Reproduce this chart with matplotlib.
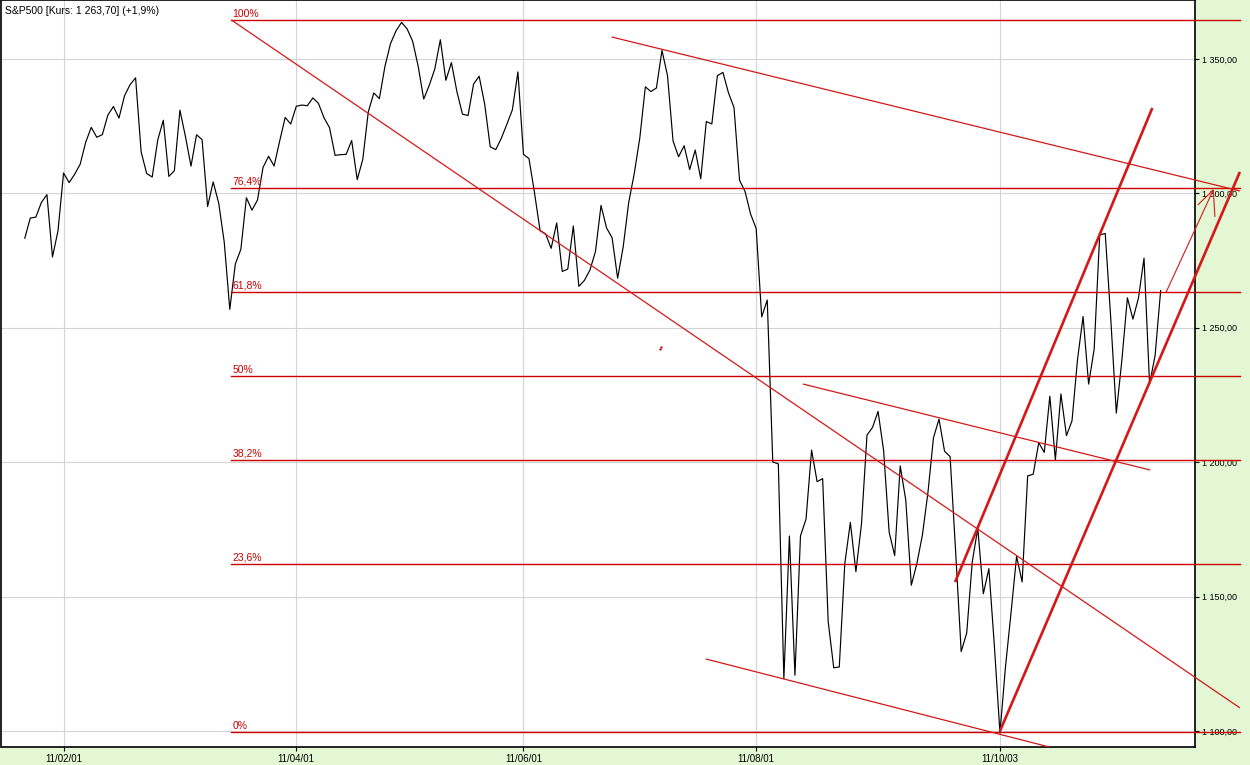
import matplotlib
matplotlib.use('Agg')
import matplotlib.pyplot as plt
import numpy as np

# S&P500 daily closes, 21 Jan 2011 .. 11 Nov 2011 (trading-day index on x)
closes = [
    1283.35, 1290.84, 1291.18, 1296.63, 1299.54, 1276.34, 1286.12,
    1307.59, 1304.03, 1307.10, 1310.87, 1319.05, 1324.57, 1320.88, 1321.87,
    1329.15, 1332.32, 1328.01, 1336.32, 1340.43, 1343.01, 1315.44, 1307.40,
    1306.10, 1319.88, 1327.22,
    1306.33, 1308.44, 1330.97, 1321.15, 1310.13, 1321.82, 1320.02, 1295.11,
    1304.28, 1296.39, 1281.87, 1256.88, 1273.72, 1279.21, 1298.38, 1293.77,
    1297.54, 1309.66, 1313.80, 1310.19, 1319.44, 1328.26, 1325.83,
    1332.41, 1332.87, 1332.63, 1335.54, 1333.51, 1328.17, 1324.46, 1314.16,
    1314.41, 1314.52, 1319.68, 1305.14, 1312.62, 1330.36, 1337.38, 1335.25,
    1347.24, 1355.66, 1360.48, 1363.61,
    1361.22, 1356.62, 1347.32, 1335.10, 1340.20, 1346.29, 1357.16, 1342.08,
    1348.65, 1337.77, 1329.47, 1328.98, 1340.68, 1343.60, 1333.27, 1317.37,
    1316.28, 1320.47, 1325.69, 1331.10, 1345.20,
    1314.55, 1312.94, 1300.16, 1286.17, 1284.94, 1279.56, 1289.00, 1270.98,
    1271.83, 1287.87, 1265.42, 1267.64, 1271.50, 1278.36, 1295.52, 1287.14,
    1283.50, 1268.45, 1280.10, 1296.67, 1307.41, 1320.64,
    1339.67, 1337.88, 1339.22, 1353.22, 1343.80, 1319.49, 1313.64, 1317.72,
    1308.87, 1316.14, 1305.44, 1326.73, 1325.84, 1343.80, 1345.02, 1337.43,
    1331.94, 1304.89, 1300.67, 1292.28,
    1286.94, 1254.05, 1260.34, 1200.07, 1199.38, 1119.46, 1172.53, 1120.76,
    1172.64, 1178.81, 1204.49, 1192.76, 1193.89, 1140.65, 1123.53, 1123.82,
    1162.35, 1177.60, 1159.27, 1176.80, 1210.08, 1212.92, 1218.89,
    1204.42, 1173.97, 1165.24, 1198.62, 1185.90, 1154.23, 1162.27, 1172.87,
    1188.68, 1209.11, 1216.01, 1204.09, 1202.09, 1166.76, 1129.56, 1136.43,
    1162.95, 1175.38, 1151.06, 1160.40, 1131.42,
    1099.23, 1123.95, 1144.03, 1164.97, 1155.46, 1194.89, 1195.54, 1207.25,
    1203.66, 1224.58, 1200.86, 1225.38, 1209.88, 1215.39, 1238.25, 1254.19,
    1229.05, 1242.00, 1284.59, 1285.09, 1253.30,
    1218.28, 1237.90, 1261.15, 1253.23, 1261.12, 1275.92, 1229.10, 1239.70,
    1263.85,
]
x_tick_pos = [7, 49, 90, 132, 176]
x_tick_labels = ['11/02/01', '11/04/01', '11/06/01', '11/08/01', '11/10/03']
y_ticks = [1100, 1150, 1200, 1250, 1300, 1350]
y_tick_labels = ['1 100,00', '1 150,00', '1 200,00', '1 250,00', '1 300,00', '1 350,00']

# Fibonacci retracement between 0% and 100%
fib_low, fib_high = 1099.6, 1364.5
fib_pcts = [0.0, 0.236, 0.382, 0.5, 0.618, 0.764, 1.0]
fib_labels = ['0%', '23,6%', '38,2%', '50%', '61,8%', '76,4%', '100%']

# hand-drawn trend lines: (x0, y0, x1, y1, width)
trend_lines = [
    (37.3, 1364.5, 219.3, 1108.6, 0.9),
    (105.9, 1358.2, 219.3, 1300.9, 0.9),
    (122.9, 1126.8, 185.0, 1094.0, 0.9),
    (140.4, 1229.1, 203.1, 1197.1, 0.9),
    (167.9, 1155.4, 203.5, 1331.8, 1.9),
    (176.0, 1100.0, 219.3, 1308.0, 1.9),
    (206.0, 1263.3, 214.5, 1301.3, 0.8),
    (211.7, 1295.7, 214.5, 1301.3, 0.8),
    (214.5, 1301.3, 214.8, 1291.2, 0.8),
]

red = '#CC0000'
green_bg = '#E4F7D4'

fig = plt.figure(figsize=(12.5, 7.65), dpi=100, facecolor=green_bg)
ax = fig.add_axes([1.5 / 1250, 18 / 765, 1193.5 / 1250, 747 / 765])
ax.set_facecolor('white')

x = np.arange(len(closes))
ax.plot(x, closes, color='black', lw=0.85, zorder=3)

ax.set_xlim(-4.2, 211.2)
ax.set_ylim(1094.05, 1371.95)

# gridlines
ax.set_xticks(x_tick_pos)
ax.set_xticklabels(x_tick_labels, fontsize=7, family='Liberation Sans')
ax.set_yticks(y_ticks)
ax.set_yticklabels(y_tick_labels, fontsize=6.5, family='Liberation Sans')
ax.yaxis.tick_right()
ax.tick_params(axis='both', direction='out', length=3, width=0.8, pad=2)
ax.grid(True, color='#D4D4D4', lw=0.8, zorder=0)
for s in ax.spines.values():
    s.set_color('black')
    s.set_linewidth(1.2)

# fibonacci levels
for p, lab in zip(fib_pcts, fib_labels):
    lvl = fib_low + p * (fib_high - fib_low)
    ax.plot([37.3, 219.3], [lvl, lvl], color=red, lw=1.0, clip_on=False, zorder=4)
    ax.text(37.5, lvl + 0.5, lab, color=red, fontsize=7.5, family='Liberation Sans',
            va='bottom', ha='left', zorder=5)

for x0, y0, x1, y1, w in trend_lines:
    clip = y1 < 1094.05
    ax.plot([x0, x1], [y0, y1], color='#D41818', lw=w, clip_on=clip, zorder=4,
            solid_capstyle='butt')

ax.plot([114.6, 114.9], [1242.1, 1242.8], ls='none', marker='s', ms=0.6, color=red)

ax.text(0.003, 0.992, 'S&P500 [Kurs: 1 263,70] (+1,9%)', transform=ax.transAxes,
        fontsize=7.5, family='Liberation Sans', va='top', ha='left')

fig.savefig('out.png', dpi=100, facecolor=green_bg)
